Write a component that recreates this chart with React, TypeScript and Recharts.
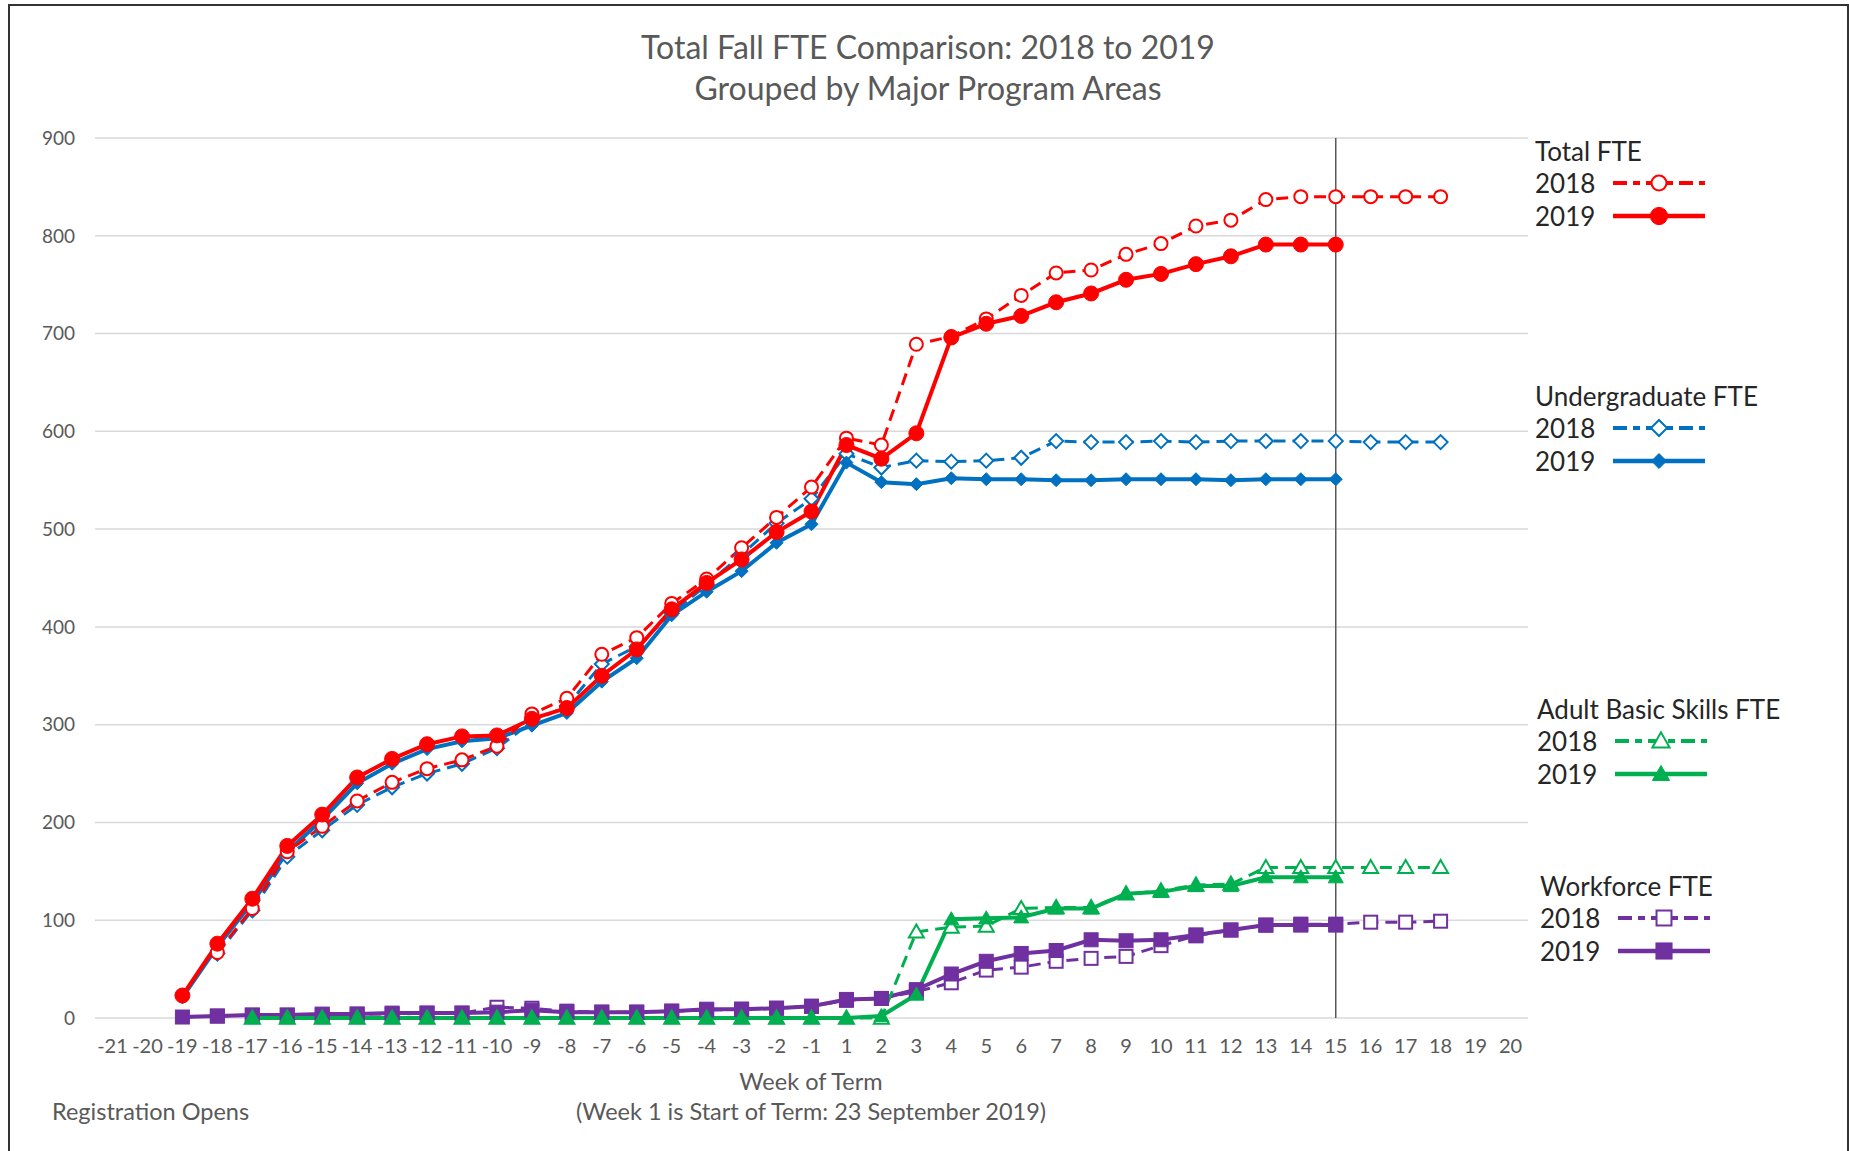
import React from "react";
import { LineChart, Line, XAxis, YAxis, CartesianGrid, ReferenceLine } from "recharts";

// weeks of term: -21 .. -1, then 1 .. 20 (no week 0)
const weeks = [
  "-21", "-20", "-19", "-18", "-17", "-16", "-15", "-14", "-13", "-12", "-11",
  "-10", "-9", "-8", "-7", "-6", "-5", "-4", "-3", "-2", "-1",
  "1", "2", "3", "4", "5", "6", "7", "8", "9", "10",
  "11", "12", "13", "14", "15", "16", "17", "18", "19", "20",
];

const yTicks = [0, 100, 200, 300, 400, 500, 600, 700, 800, 900];

const total2018 = [
  null, null, null, 67, 112, 170, 196, 222, 241, 255, 264,
  278, 311, 327, 372, 389, 424, 449, 481, 512, 543,
  593, 586, 689, 697, 715, 739, 762, 765, 781, 792,
  810, 816, 837, 840, 840, 840, 840, 840, null, null,
];
const total2019 = [
  null, null, 23, 76, 122, 176, 208, 246, 265, 280, 288,
  289, 306, 317, 350, 377, 418, 445, 469, 497, 518,
  586, 572, 598, 696, 710, 718, 732, 741, 755, 761,
  771, 779, 791, 791, 791, null, null, null, null, null,
];
const ug2018 = [
  null, null, null, 66, 110, 165, 192, 218, 236, 250, 260,
  276, 303, 319, 362, 380, 414, 443, 474, 506, 531,
  577, 563, 570, 569, 570, 573, 590, 589, 589, 590,
  589, 590, 590, 590, 590, 589, 589, 589, null, null,
];
const ug2019 = [
  null, null, 21, 73, 118, 170, 203, 240, 260, 275, 283,
  286, 299, 312, 344, 368, 412, 436, 457, 486, 505,
  568, 548, 546, 552, 551, 551, 550, 550, 551, 551,
  551, 550, 551, 551, 551, null, null, null, null, null,
];
const abs2018 = [
  null, null, null, null, 0, 0, 0, 0, 0, 0, 0,
  0, 0, 0, 0, 0, 0, 0, 0, 0, 0,
  0, 0, 88, 93, 94, 112, 113, 113, 127, 130,
  136, 137, 154, 154, 154, 154, 154, 154, null, null,
];
const abs2019 = [
  null, null, null, null, 0, 0, 0, 0, 0, 0, 0,
  0, 0, 0, 0, 0, 0, 0, 0, 0, 0,
  0, 2, 24, 101, 102, 103, 112, 112, 127, 129,
  135, 135, 144, 144, 144, null, null, null, null, null,
];
const wf2018 = [
  null, null, null, 2, 3, 3, 3, 4, 4, 5, 5,
  11, 10, 7, 6, 6, 7, 8, 9, 10, 12,
  18, 20, 27, 36, 49, 52, 58, 61, 63, 74,
  84, 90, 95, 96, 96, 98, 98, 99, null, null,
];
const wf2019 = [
  null, null, 1, 2, 3, 3, 4, 4, 5, 5, 5,
  6, 8, 6, 6, 6, 7, 9, 9, 10, 12,
  19, 20, 29, 45, 58, 66, 69, 80, 79, 80,
  85, 90, 95, 95, 95, null, null, null, null, null,
];

const data = weeks.map((w, i) => ({
  week: w,
  total2018: total2018[i],
  total2019: total2019[i],
  ug2018: ug2018[i],
  ug2019: ug2019[i],
  abs2018: abs2018[i],
  abs2019: abs2019[i],
  wf2018: wf2018[i],
  wf2019: wf2019[i],
}));

type Shape = "circle" | "diamond" | "triangle" | "square";

const groups: { title: string; color: string; shape: Shape; k18: string; k19: string; top: number; lx: number }[] = [
  { title: "Total FTE", color: "#FF0000", shape: "circle", k18: "total2018", k19: "total2019", top: 151, lx: 1535 },
  { title: "Undergraduate FTE", color: "#0070C0", shape: "diamond", k18: "ug2018", k19: "ug2019", top: 396, lx: 1535 },
  { title: "Adult Basic Skills FTE", color: "#00B050", shape: "triangle", k18: "abs2018", k19: "abs2019", top: 709, lx: 1537 },
  { title: "Workforce FTE", color: "#7030A0", shape: "square", k18: "wf2018", k19: "wf2019", top: 886, lx: 1540 },
];

const FONT = "Lato, 'Open Sans', sans-serif";
const GREY = "#595959";

function Mark({ cx, cy, shape, color, open, scale = 1 }: { cx?: number; cy?: number; shape: Shape; color: string; open: boolean; scale?: number }) {
  if (cx == null || cy == null || isNaN(cx) || isNaN(cy)) return null;
  const fill = open ? "#fff" : color;
  const sw = open ? 2 : 1;
  if (shape === "circle") {
    const r = (open ? 6.5 : 7.5) * scale;
    return <circle cx={cx} cy={cy} r={r} fill={fill} stroke={color} strokeWidth={sw} />;
  }
  if (shape === "diamond") {
    const r = (open ? 7 : 6.5) * scale;
    return <polygon points={`${cx},${cy - r} ${cx + r},${cy} ${cx},${cy + r} ${cx - r},${cy}`} fill={fill} stroke={color} strokeWidth={sw} />;
  }
  if (shape === "triangle") {
    const r = 7.5 * scale;
    return <polygon points={`${cx},${cy - r} ${cx + r},${cy + r * 0.75} ${cx - r},${cy + r * 0.75}`} fill={fill} stroke={color} strokeWidth={sw} />;
  }
  const h = (open ? 6.5 : 7) * scale;
  return <rect x={cx - h} y={cy - h} width={h * 2} height={h * 2} fill={fill} stroke={color} strokeWidth={sw} />;
}

function LegendBox() {
  const x0 = 1520;
  const y0 = 120;
  return (
    <svg width={320} height={870} style={{ position: "absolute", left: x0, top: y0 }}>
      {groups.map((g) => {
        const t = g.top - y0;
        const l1 = g.lx + 78 - x0;
        const l2 = g.lx + 170 - x0;
        const mx = (l1 + l2) / 2;
        return (
          <g key={g.title} fontFamily={FONT} fill="#262626" fontSize={26}>
            <text x={g.lx - x0} y={t} dominantBaseline="central">{g.title}</text>
            <text x={g.lx - x0} y={t + 32} dominantBaseline="central">2018</text>
            <text x={g.lx - x0} y={t + 65} dominantBaseline="central">2019</text>
            <line x1={l1} x2={l2} y1={t + 32} y2={t + 32} stroke={g.color} strokeWidth={4} strokeDasharray="14 6 7 6" />
            <Mark cx={mx} cy={t + 32} shape={g.shape} color={g.color} open scale={1.15} />
            <line x1={l1} x2={l2} y1={t + 65} y2={t + 65} stroke={g.color} strokeWidth={4.5} />
            <Mark cx={mx} cy={t + 65} shape={g.shape} color={g.color} open={false} scale={1.15} />
          </g>
        );
      })}
    </svg>
  );
}

export default function App() {
  // draw order: workforce, basic skills, undergrad, total (2018 under 2019)
  const order = [groups[3], groups[2], groups[1], groups[0]];
  return (
    <div style={{ position: "absolute", left: 0, top: 0, width: 1849, height: 1151, background: "#fff", overflow: "hidden", fontFamily: FONT }}>
      <div style={{ position: "absolute", left: 8, top: 4, width: 1837, height: 1200, borderLeft: "2.5px solid #333", borderTop: "2.5px solid #333", borderRight: "2.5px solid #333" }} />
      <div style={{ position: "absolute", left: 0, top: 26, width: 1856, textAlign: "center", color: GREY, fontSize: 32, lineHeight: "41px" }}>
        Total Fall FTE Comparison: 2018 to 2019
        <br />
        Grouped by Major Program Areas
      </div>
      <div style={{ position: "absolute", left: 0, top: 1066, width: 1622, textAlign: "center", color: GREY, fontSize: 23.5, lineHeight: "30px" }}>
        Week of Term
        <br />
        (Week 1 is Start of Term: 23 September 2019)
      </div>
      <div style={{ position: "absolute", left: 52, top: 1096, color: GREY, fontSize: 23.5, lineHeight: "30px" }}>Registration Opens</div>
      <div style={{ position: "absolute", left: 0, top: 0 }}>
        <LineChart width={1849} height={1151} data={data} margin={{ top: 138, right: 321, bottom: 93, left: 0 }}>
          <CartesianGrid vertical={false} stroke="#D9D9D9" strokeWidth={1.5} />
          <XAxis
            dataKey="week"
            interval={0}
            axisLine={false}
            tickLine={false}
            height={40}
            padding={{ left: 17.5, right: 17.5 }}
            tick={{ fill: GREY, fontSize: 20, fontFamily: FONT }}
            tickMargin={15}
          />
          <YAxis
            width={95}
            domain={[0, 900]}
            ticks={yTicks}
            axisLine={false}
            tickLine={false}
            tickMargin={14}
            tick={{ fill: GREY, fontSize: 19, fontFamily: FONT }}
          />
          <ReferenceLine x="15" stroke="#595959" strokeWidth={1.5} />
          {order.flatMap((g) => [
            <Line
              key={g.k18}
              dataKey={g.k18}
              stroke={g.color}
              strokeWidth={3}
              strokeDasharray="12 7"
              isAnimationActive={false}
              dot={(p: any) => <Mark key={`${g.k18}-${p.index}`} cx={p.cx} cy={p.cy} shape={g.shape} color={g.color} open />}
              activeDot={false}
            />,
            <Line
              key={g.k19}
              dataKey={g.k19}
              stroke={g.color}
              strokeWidth={4}
              isAnimationActive={false}
              dot={(p: any) => <Mark key={`${g.k19}-${p.index}`} cx={p.cx} cy={p.cy} shape={g.shape} color={g.color} open={false} />}
              activeDot={false}
            />,
          ])}
        </LineChart>
      </div>
      <LegendBox />
    </div>
  );
}
